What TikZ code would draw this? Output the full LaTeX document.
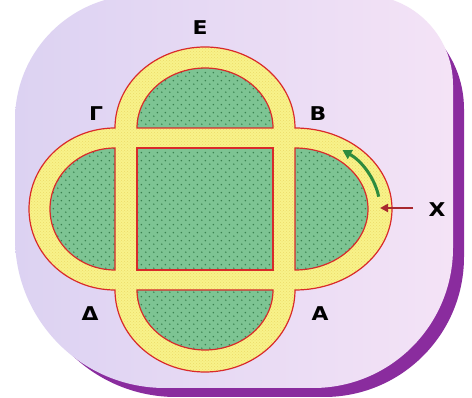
\documentclass[tikz,border=0pt]{standalone}
\usepackage{fontspec}
\newfontfamily\lblfont{DejaVu Sans}[FakeStretch=1.15]
\usetikzlibrary{arrows.meta,patterns,patterns.meta}
\definecolor{lavA}{HTML}{DCD2F2}
\definecolor{lavB}{HTML}{F4E3F6}
\definecolor{shadowpurple}{HTML}{8A2C9E}
\definecolor{trackyellow}{HTML}{F8F28A}
\definecolor{dotyellow}{HTML}{ECDC68}
\definecolor{trackred}{HTML}{D92A2A}
\definecolor{fieldgreen}{HTML}{7DC493}
\definecolor{seedgreen}{HTML}{3A8250}
\definecolor{arrowgreen}{HTML}{2E8B3E}
\definecolor{arrowred}{HTML}{A8282E}

\tikzdeclarepattern{
  name=seeds, type=uncolored,
  bounding box={(0pt,0pt) and (8pt,8pt)},
  tile size={(8pt,8pt)},
  code={\fill (2pt,2pt) circle (0.9pt); \fill (6pt,6pt) circle (0.9pt);}
}

\begin{document}
\begin{tikzpicture}[
    x=1pt, y=-1pt,
    lbl/.style={font=\lblfont\bfseries\fontsize{19}{19}\selectfont, inner sep=0pt},
    track/.style={draw=trackred, line width=1.2pt, preaction={fill=trackyellow}, pattern=crosshatch dots, pattern color=dotyellow},
    field/.style={draw=trackred, line width=1.2pt, preaction={fill=fieldgreen}, pattern=seeds, pattern color=seedgreen},
    pointer/.style={-{Triangle[length=8pt,width=8pt]}, line width=2pt}
]
\useasboundingbox[fill=white] (0,0) rectangle (472,398);

% board and its shadow
\fill[shadowpurple, shift={(11,9)}] (15,120) arc[start angle=180,end angle=270,radius=125] -- (348,-5)
  arc[start angle=270,end angle=360,radius=105] -- (453,248)
  arc[start angle=0,end angle=90,radius=140] -- (165,388)
  arc[start angle=90,end angle=180,radius=150] -- cycle;
\shade[left color=lavA, right color=lavB] (15,120) arc[start angle=180,end angle=270,radius=125] -- (363,-5)
  arc[start angle=270,end angle=360,radius=90] -- (453,248)
  arc[start angle=0,end angle=90,radius=140] -- (165,388)
  arc[start angle=90,end angle=180,radius=150] -- cycle;

% track
\path[track] (115,128) arc[start angle=180,end angle=360,x radius=90,y radius=81]
  arc[start angle=270,end angle=450,x radius=97,y radius=81]
  arc[start angle=0,end angle=180,x radius=90,y radius=82]
  arc[start angle=90,end angle=270,x radius=86,y radius=81] -- cycle;

% fields
\path[field] (137,148) rectangle (273,270);
\path[field] (137,128) arc[start angle=180,end angle=360,x radius=68,y radius=60] -- cycle;
\path[field] (273,290) arc[start angle=0,end angle=180,x radius=68,y radius=60] -- cycle;
\path[field] (295,148) arc[start angle=270,end angle=450,x radius=73,y radius=61] -- cycle;
\path[field] (115,270) arc[start angle=90,end angle=270,x radius=65,y radius=61] -- cycle;

% labels
\node[lbl] (epsilon) at (200,28) {Ε};
\node[lbl] (gamma) at (96,114) {Γ};
\node[lbl] (beta) at (318,114) {Β};
\node[lbl] (delta) at (90,314) {Δ};
\node[lbl] (alpha) at (320,314) {Α};
\node[lbl] (chi) at (437,210) {Χ};

% arrows
\coordinate (gatetail) at (413,208);
\coordinate (gate) at (380,208);
\draw[pointer, arrowred] (gatetail) -- (gate);
\coordinate (runstart) at (378.7,196.7);
\draw[pointer, arrowgreen, line width=3pt, -{Triangle[length=9pt,width=10pt]}] (runstart) arc[start angle=350,end angle=304,x radius=85,y radius=71];
\end{tikzpicture}
\end{document}
